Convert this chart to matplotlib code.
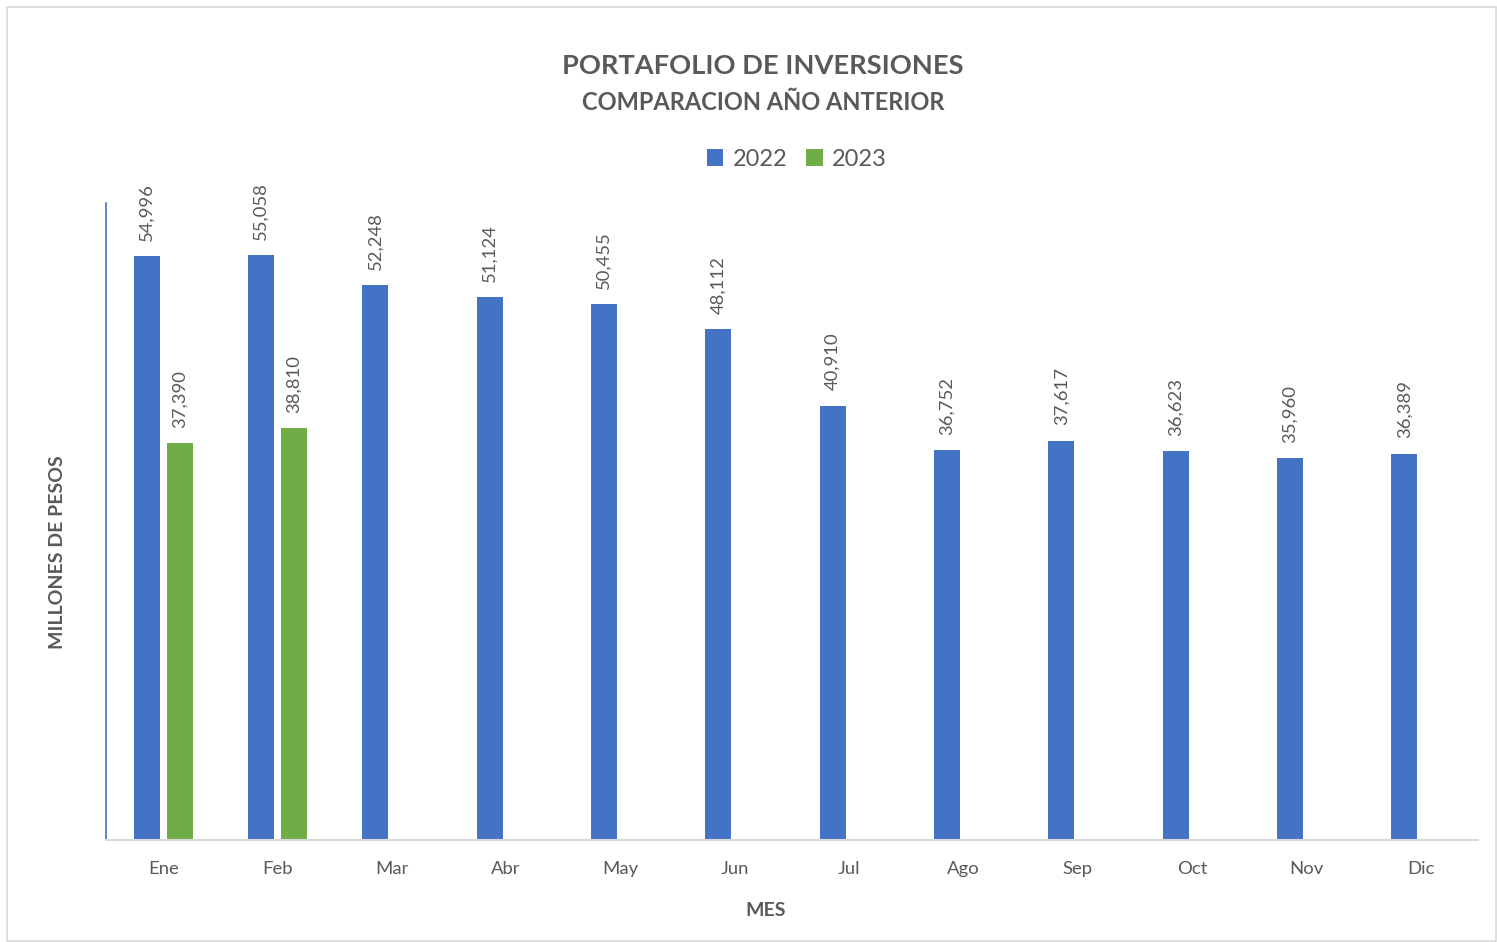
import matplotlib.pyplot as plt
import matplotlib.patches as mpatches
import numpy as np

# --- data ---
months = ["Ene", "Feb", "Mar", "Abr", "May", "Jun", "Jul", "Ago", "Sep", "Oct", "Nov", "Dic"]
vals_2022 = [54996, 55058, 52248, 51124, 50455, 48112, 40910, 36752, 37617, 36623, 35960, 36389]
vals_2023 = [37390, 38810]

BLUE = "#4472C4"
GREEN = "#70AD47"
TXT = "#595959"

plt.rcParams['font.family'] = ['Lato', 'DejaVu Sans']

fig = plt.figure(figsize=(14.97, 9.42), dpi=100)
ax = fig.add_axes([106/1497, 1 - 840/942, (1478-106)/1497, (840-203)/942])

# outer chart border
fig.patches.append(mpatches.Rectangle((7/1497, 1/942), 1489/1497, 934/942, transform=fig.transFigure,
                                      fill=False, edgecolor="#D9D9D9", linewidth=1.2))

x = np.arange(len(months))
w = 0.227
off = 0.144
b1 = ax.bar(x - off, vals_2022, w, color=BLUE, label="2022")
b2 = ax.bar(x[:len(vals_2023)] + off, vals_2023, w, color=GREEN, label="2023")

for bars in (b1, b2):
    for r in bars:
        h = r.get_height()
        ax.annotate(f"{h:,.0f}", (r.get_x() + r.get_width()/2, h), xytext=(0, 11),
                    textcoords="offset points", rotation=90, ha="center", va="bottom",
                    fontsize=13.3, color=TXT)

ax.set_xlim(-0.5, len(months) - 0.5)
ax.set_ylim(0, 60000)
ax.set_xticks(x)
ax.set_xticklabels(months, fontsize=13.3, color=TXT)
ax.set_yticks([])
ax.tick_params(axis="x", length=0, pad=15)
for s in ("top", "right"):
    ax.spines[s].set_visible(False)
ax.spines["left"].set_color(BLUE)
ax.spines["left"].set_linewidth(1.2)
ax.spines["bottom"].set_color("#D9D9D9")
ax.spines["bottom"].set_linewidth(1.5)

fig.text(763/1497, 1 - 66/942, "PORTAFOLIO DE INVERSIONES", ha="center", va="center",
         fontsize=19.6, fontweight="bold", color=TXT)
fig.text(763/1497, 1 - 103/942, "COMPARACION AÑO ANTERIOR", ha="center", va="center",
         fontsize=17, fontweight="bold", color=TXT)
fig.text(766/1497, 1 - 911/942, "MES", ha="center", va="center",
         fontsize=14, fontweight="bold", color=TXT)
fig.text(58/1497, 1 - 552/942, "MILLONES DE PESOS", ha="center", va="center", rotation=90,
         fontsize=14, fontweight="bold", color=TXT)

fig.legend(handles=[b1, b2], loc="center", bbox_to_anchor=(797/1497, 1 - 159/942), ncol=2,
           frameon=False, fontsize=17, labelcolor=TXT, handlelength=0.7, handleheight=0.7,
           handletextpad=0.4, columnspacing=0.8)

fig.savefig("out.png", dpi=100)
